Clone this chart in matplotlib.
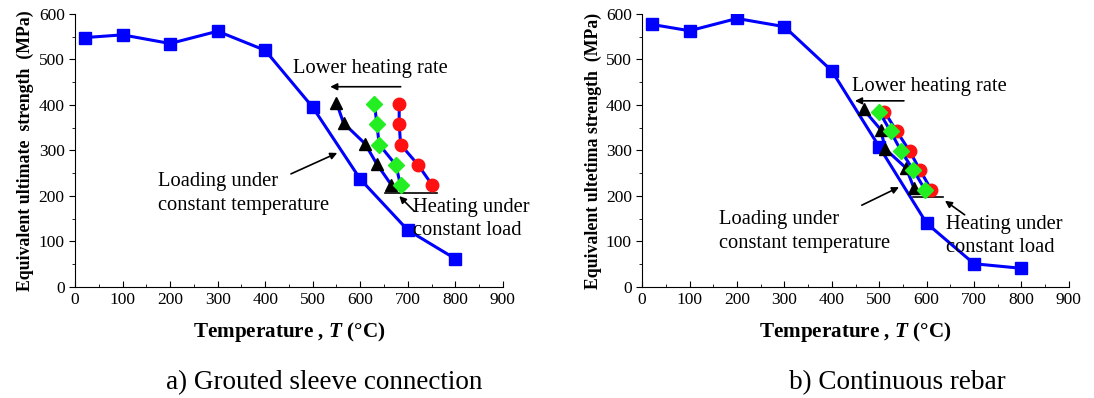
import matplotlib.pyplot as plt
import numpy as np

plt.rcParams['font.family'] = ['Liberation Serif', 'DejaVu Serif']
plt.rcParams['mathtext.fontset'] = 'custom'
plt.rcParams['mathtext.it'] = 'Liberation Serif:italic:bold'
plt.rcParams['mathtext.rm'] = 'Liberation Serif:bold'

# (a) grouted sleeve connection
temp_a = [20, 100, 200, 300, 400, 500, 600, 700, 800]
str_a = [548, 554, 535, 562, 520, 395, 237, 125, 62]
tri_x_a = [550, 565, 610, 635, 665]
tri_y_a = [405, 360, 315, 270, 225]
dia_x_a = [630, 635, 640, 675, 685]
dia_y_a = [403, 358, 313, 268, 223]
cir_x_a = [682, 682, 685, 722, 752]
cir_y_a = [403, 358, 313, 268, 223]

# (b) continuous rebar
temp_b = [20, 100, 200, 300, 400, 500, 600, 700, 800]
str_b = [577, 563, 590, 572, 475, 308, 140, 51, 41]
tri_x_b = [467, 503, 513, 557, 573]
tri_y_b = [390, 346, 303, 261, 218]
dia_x_b = [500, 524, 546, 572, 597]
dia_y_b = [385, 342, 299, 257, 213]
cir_x_b = [511, 537, 564, 586, 610]
cir_y_b = [385, 342, 299, 257, 213]

fig = plt.figure(figsize=(10.94, 3.98), dpi=100)
ax1 = fig.add_axes([0.0686, 0.279, 0.391, 0.686])
ax2 = fig.add_axes([0.587, 0.279, 0.390, 0.686])

blue = '#0000ff'

def draw(ax, t, s, tx, ty, dx, dy, cx, cy, ylabel):
    ax.plot(t, s, color=blue, lw=2.2, marker='s', ms=8, mfc=blue, mec=blue, zorder=3)
    ax.plot(tx, ty, color=blue, lw=2.2, marker='^', ms=9, mfc='black', mec='black', zorder=4)
    ax.plot(dx, dy, color=blue, lw=2.2, marker='D', ms=8, mfc='#22ee22', mec='#22ee22', zorder=5)
    ax.plot(cx, cy, color=blue, lw=2.2, marker='o', ms=9, mfc='#ff1111', mec='#ff1111', zorder=4)
    ax.set_xlim(0, 900)
    ax.set_ylim(0, 600)
    ax.set_xticks(np.arange(0, 901, 100))
    ax.set_yticks(np.arange(0, 601, 100))
    ax.set_xticks(np.arange(50, 900, 100), minor=True)
    ax.set_yticks(np.arange(50, 600, 100), minor=True)
    ax.spines['top'].set_visible(False)
    ax.spines['right'].set_visible(False)
    ax.tick_params(axis='x', which='both', direction='in', labelsize=12.5)
    ax.tick_params(axis='x', which='major', length=4)
    ax.tick_params(axis='x', which='minor', length=2.5)
    ax.tick_params(axis='y', which='both', direction='out', labelsize=12.5)
    ax.tick_params(axis='y', which='major', length=4)
    ax.tick_params(axis='y', which='minor', length=2.5)
    ax.set_xlabel(r'Temperature , $T$ (°C)', fontsize=15.2, fontweight='bold', labelpad=9)
    ax.set_ylabel(ylabel, fontsize=12.8, fontweight='bold', labelpad=3)

draw(ax1, temp_a, str_a, tri_x_a, tri_y_a, dia_x_a, dia_y_a, cir_x_a, cir_y_a,
     'Equivalent ultimate  strength  (MPa)')
draw(ax2, temp_b, str_b, tri_x_b, tri_y_b, dia_x_b, dia_y_b, cir_x_b, cir_y_b,
     'Equivalent ultetima strength  (MPa)')

tkw = dict(fontsize=14.8, clip_on=False)
akw = dict(arrowstyle='-|>', color='black', lw=1.2, mutation_scale=10)

# annotations (a)
ax1.text(458, 481, 'Lower heating rate', va='center', ha='left', **tkw)
ax1.annotate('', xy=(531, 440), xytext=(691, 440), arrowprops=akw)
ax1.text(175, 206, 'Loading under\nconstant temperature', va='center', ha='left',
         linespacing=1.35, **tkw)
ax1.annotate('', xy=(557, 297), xytext=(449, 246), arrowprops=akw)
ax1.plot([652, 762], [207, 207], color='black', lw=1.2)
ax1.text(711, 150, 'Heating under\nconstant load', va='center', ha='left',
         linespacing=1.3, **tkw)
ax1.annotate('', xy=(678, 204), xytext=(718, 162), arrowprops=akw)

# annotations (b)
ax2.text(443, 441, 'Lower heating rate', va='center', ha='left', **tkw)
ax2.annotate('', xy=(443, 409), xytext=(558, 409), arrowprops=akw)
ax2.text(163, 122, 'Loading under\nconstant temperature', va='center', ha='left',
         linespacing=1.35, **tkw)
ax2.annotate('', xy=(547, 222), xytext=(458, 177), arrowprops=akw)
ax2.plot([572, 634], [197, 197], color='black', lw=1.2)
ax2.text(640, 112, 'Heating under\nconstant load', va='center', ha='left',
         linespacing=1.3, **tkw)
ax2.annotate('', xy=(634, 193), xytext=(685, 155), arrowprops=akw)

fig.text(0.296, 0.022, 'a) Grouted sleeve connection', fontsize=19.5, ha='center')
fig.text(0.820, 0.022, 'b) Continuous rebar', fontsize=19.5, ha='center')

fig.savefig('out.png', dpi=100)
